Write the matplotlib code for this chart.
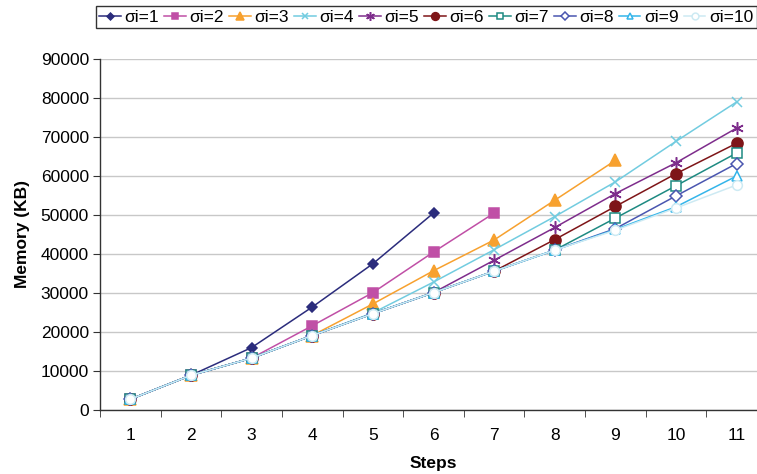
import matplotlib
matplotlib.use("Agg")
import matplotlib.pyplot as plt
from matplotlib.ticker import FixedLocator

plt.rcParams['font.family'] = ['Liberation Sans', 'DejaVu Sans']

# valores (memoria em KB por passo)
steps = [1, 2, 3, 4, 5, 6, 7, 8, 9, 10, 11]
mem_s1 = [2750, 8900, 16000, 26400, 37500, 50500]
mem_s2 = [2750, 8900, 13300, 21600, 30100, 40500, 50500]
mem_s3 = [2750, 8900, 13300, 19100, 27200, 35700, 43600, 53800, 64000]
mem_s4 = [2750, 8900, 13300, 19100, 24900, 32800, 41100, 49600, 58500, 68900, 79000]
mem_s5 = [2750, 8900, 13300, 19100, 24700, 30100, 38400, 46800, 55500, 63400, 72300]
mem_s6 = [2750, 8900, 13300, 19100, 24700, 30100, 35600, 43700, 52200, 60600, 68400]
mem_s7 = [2750, 8900, 13300, 19100, 24700, 30100, 35600, 41000, 49200, 57500, 65900]
mem_s8 = [2750, 8900, 13300, 19100, 24700, 30100, 35600, 41000, 46500, 54900, 63200]
mem_s9 = [2750, 8900, 13300, 19100, 24700, 30100, 35600, 41000, 46300, 52100, 60000]
mem_s10 = [2750, 8900, 13300, 19100, 24700, 30100, 35600, 41000, 46100, 51800, 57700]

labels = ["σi=1", "σi=2", "σi=3", "σi=4", "σi=5", "σi=6", "σi=7", "σi=8", "σi=9", "σi=10"]
series = [mem_s1, mem_s2, mem_s3, mem_s4, mem_s5, mem_s6, mem_s7, mem_s8, mem_s9, mem_s10]

# estilo de cada serie: cor, marcador, tamanho, preenchido
estilos = [
    ("#2B2C7C", "D", 5, True),
    ("#C04FA6", "s", 7, True),
    ("#F7A12F", "^", 8, True),
    ("#72CCE0", "x", 7, True),
    ("#7E2D8C", (6, 2, 0), 9, True),
    ("#7E1518", "o", 8, True),
    ("#1E8A82", "s", 7, False),
    ("#4A56B0", "D", 6, False),
    ("#34B5EA", "^", 7, False),
    ("#CDEAF3", "o", 7, False),
]

fig = plt.figure(figsize=(7.57, 4.74), dpi=100)
ax = fig.add_axes([100 / 757, 64 / 474, 667 / 757, 351 / 474])

for vals, lab, (cor, mk, ms, cheio) in zip(series, labels, estilos):
    ax.plot(steps[:len(vals)], vals, color=cor, lw=1.1, marker=mk, markersize=ms,
            markerfacecolor=cor if cheio else "white", markeredgecolor=cor,
            markeredgewidth=1.1, label=lab, zorder=3)

ax.set_xlim(0.5, 11.5)
ax.set_ylim(0, 90000)
ax.set_yticks(range(0, 90001, 10000))
ax.set_xticks(steps)
ax.xaxis.set_minor_locator(FixedLocator([s + 0.5 for s in steps[:-1]] + [0.5]))
ax.tick_params(axis="x", which="major", length=0, pad=13, labelsize=12.5)
ax.tick_params(axis="x", which="minor", length=5, direction="out", color="#333333")
ax.tick_params(axis="y", length=5, direction="out", color="#333333", labelsize=12.5, pad=3)

ax.grid(axis="y", color="#C8C8C8", lw=1)
ax.set_axisbelow(True)
for lado in ["top", "right"]:
    ax.spines[lado].set_visible(False)
for lado in ["left", "bottom"]:
    ax.spines[lado].set_color("#333333")
    ax.spines[lado].set_linewidth(1)

ax.set_ylabel("Memory (KB)", fontsize=12.5, fontweight="bold", labelpad=8)
ax.set_xlabel("Steps", fontsize=12.5, fontweight="bold", labelpad=9)

leg = fig.legend(loc="upper left", bbox_to_anchor=(96 / 757, 1 - 6 / 474), ncol=10,
                 fontsize=12.5, frameon=True, fancybox=False, edgecolor="black",
                 handlelength=1.25, handletextpad=0.2, columnspacing=0.3,
                 borderpad=0.2, borderaxespad=0)
leg.get_frame().set_linewidth(1)
for h in leg.legend_handles:
    h.set_markersize(h.get_markersize() * 0.7)

fig.savefig("out.png", dpi=100)
